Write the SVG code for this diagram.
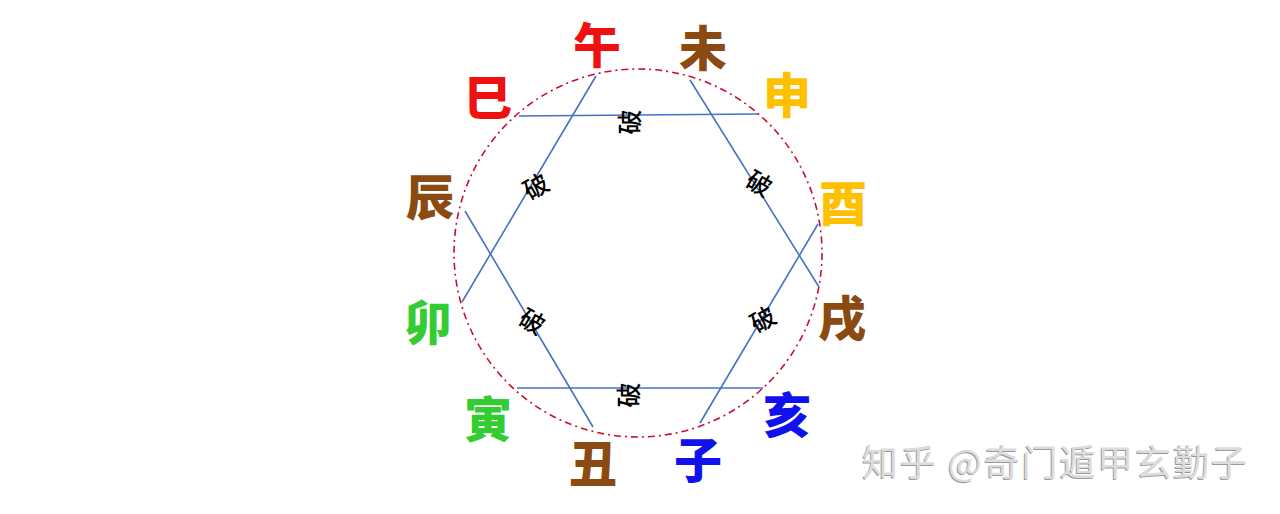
<svg xmlns="http://www.w3.org/2000/svg" width="1280" height="514" viewBox="0 0 1280 514">
<style>
.br{font-family:"Noto Sans CJK SC","Noto Sans CJK JP",sans-serif;font-weight:900;font-size:48px;text-anchor:middle;dominant-baseline:central}
.po{font-family:"Noto Sans CJK SC","Noto Sans CJK JP",sans-serif;font-weight:500;font-size:25px;text-anchor:middle;dominant-baseline:central;fill:#000}
.ln{stroke:#4472C4;stroke-width:1.6;fill:none}
.wm{font-family:"Noto Sans CJK SC","Noto Sans CJK JP",sans-serif;font-size:36px}
</style>
<rect width="1280" height="514" fill="#fff"/>
<circle id="ring" cx="638" cy="253" r="184" fill="none" stroke="#C8102E" stroke-width="1.6" stroke-dasharray="7 4 2 4"/>
<g id="connectors">
<line class="ln" x1="519" y1="116" x2="758" y2="114"/>
<line class="ln" x1="596" y1="76" x2="462" y2="302"/>
<line class="ln" x1="690" y1="80" x2="819" y2="287"/>
<line class="ln" x1="465" y1="211" x2="593" y2="427"/>
<line class="ln" x1="818" y1="224" x2="700" y2="423"/>
<line class="ln" x1="517" y1="388" x2="763" y2="388"/>
</g>
<g id="po-labels">
<text class="po" transform="translate(628,122) rotate(-90)">破</text>
<text class="po" transform="translate(627,395) rotate(-90)">破</text>
<text class="po" transform="translate(535,185) rotate(-30)">破</text>
<text class="po" transform="translate(760,182) rotate(30)">破</text>
<text class="po" transform="translate(533,320) rotate(30)">破</text>
<text class="po" transform="translate(762,318) rotate(-30)">破</text>
</g>
<g id="n-wu"><text class="br" x="597" y="42" fill="#EE1111">午</text></g>
<g id="n-wei"><text class="br" x="703" y="45" fill="#8B4A12">未</text></g>
<g id="n-shen"><text class="br" x="787" y="92" fill="#FFC000">申</text></g>
<g id="n-you"><text class="br" x="843" y="200" fill="#FFC000">酉</text></g>
<g id="n-xu"><text class="br" x="842" y="315" fill="#8B4A12">戌</text></g>
<g id="n-hai"><text class="br" x="787" y="412" fill="#1111EE">亥</text></g>
<g id="n-zi"><text class="br" x="698" y="457" fill="#1111EE">子</text></g>
<g id="n-chou"><text class="br" x="593" y="461" fill="#8B4A12">丑</text></g>
<g id="n-yin"><text class="br" x="488" y="416" fill="#33CC33">寅</text></g>
<g id="n-mao"><text class="br" x="428" y="319" fill="#33CC33">卯</text></g>
<g id="n-chen"><text class="br" x="430" y="194" fill="#8B4A12">辰</text></g>
<g id="n-si"><text class="br" x="488" y="94" fill="#EE1111">巳</text></g>
<g id="watermark">
<text class="wm" x="861" y="477" fill="#9a9a9a" textLength="385" lengthAdjust="spacing">知乎 @奇门遁甲玄勤子</text>
<text class="wm" x="862" y="476" fill="#dcdcdc" textLength="385" lengthAdjust="spacing">知乎 @奇门遁甲玄勤子</text>
</g>
</svg>
